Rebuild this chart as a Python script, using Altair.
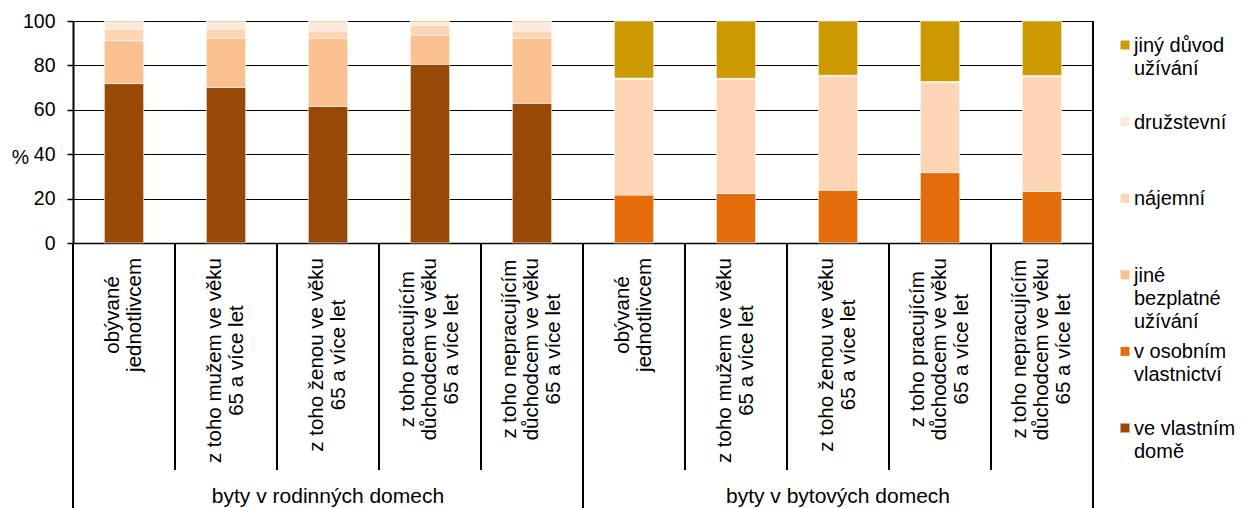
import altair as alt
import pandas as pd

# ---------------- data ----------------
groups = ["byty v rodinných domech", "byty v bytových domech"]
category_lines = [
    ["obývané", "jednotlivcem"],
    ["z toho mužem ve věku", "65 a více let"],
    ["z toho ženou ve věku", "65 a více let"],
    ["z toho pracujícím", "důchodcem ve věku", "65 a více let"],
    ["z toho nepracujícím", "důchodcem ve věku", "65 a více let"],
]

# series listed bottom -> top of the stack
series = [
    "ve vlastním domě",
    "v osobním vlastnictví",
    "jiné bezplatné užívání",
    "nájemní",
    "družstevní",
    "jiný důvod užívání",
]
series_colors = ["#984807", "#E46C0A", "#FAC090", "#FCD5B5", "#FDE9D9", "#CC9900"]
legend_texts = [
    "ve vlastním\ndomě",
    "v osobním\nvlastnictví",
    "jiné\nbezplatné\nužívání",
    "nájemní",
    "družstevní",
    "jiný důvod\nužívání",
]

# byty v rodinných domech
rodinne_vlastni = [71.8, 70.1, 61.5, 80.5, 62.9]
rodinne_osobni = [0, 0, 0, 0, 0]
rodinne_bezplatne = [19.3, 22.2, 30.8, 13.2, 29.4]
rodinne_najemni = [5.3, 4.1, 3.2, 4.2, 3.3]
rodinne_druzstevni = [3.3, 3.3, 4.2, 1.7, 4.1]
rodinne_jiny = [0.3, 0.3, 0.3, 0.4, 0.3]
# byty v bytových domech
bytove_vlastni = [0, 0, 0, 0, 0]
bytove_osobni = [21.6, 22.3, 23.8, 31.7, 23.2]
bytove_bezplatne = [0, 0, 0, 0, 0]
bytove_najemni = [52.2, 51.5, 51.3, 40.5, 51.6]
bytove_druzstevni = [0.5, 0.4, 0.5, 0.5, 0.6]
bytove_jiny = [25.7, 25.8, 24.4, 27.3, 24.6]

y_ticks = [0, 20, 40, 60, 80, 100]

# ---------------- build tables ----------------
values_by_group = [
    [rodinne_vlastni, rodinne_osobni, rodinne_bezplatne, rodinne_najemni, rodinne_druzstevni, rodinne_jiny],
    [bytove_vlastni, bytove_osobni, bytove_bezplatne, bytove_najemni, bytove_druzstevni, bytove_jiny],
]

n_cat = len(category_lines)
keys = [f"{g}-{c}" for g in range(len(groups)) for c in range(n_cat)]

rows = []
for g, vals in enumerate(values_by_group):
    for c in range(n_cat):
        for s, name in enumerate(series):
            v = vals[s][c]
            if v > 0:
                rows.append({"key": f"{g}-{c}", "series": name, "rank": s, "value": v})
df = pd.DataFrame(rows)

FONT = "Liberation Sans"
FS_AXIS = 19.5
FS_CAT = 20.5
FS_LEG = 20
FS_GRP = 21

W, H = 1020, 222
SEP_SHORT = 227
SEP_LONG = 265
LABEL_TOP = 15      # gap between the axis and the top of the rotated labels
LABEL_LH = 22

# Arial advance widths (per 1000 em): used to put each rotated label block
# right under the axis with its lines centred on each other
ADV = {" ": 278, "a": 556, "á": 556, "b": 556, "c": 500, "č": 500, "d": 556,
       "e": 556, "é": 556, "ě": 556, "f": 278, "h": 556, "i": 222, "í": 278, "j": 222,
       "k": 500, "l": 222, "m": 833, "n": 556, "o": 556, "p": 556, "r": 333, "s": 500,
       "t": 278, "u": 556, "ů": 556, "v": 500, "y": 500, "ý": 500, "z": 500, "ž": 500}


def block_len(lines):
    return max(sum(ADV.get(ch, 556) for ch in ln) for ln in lines) * FS_CAT / 1000.0


lab_rows = []
for g in range(len(groups)):
    for c in range(n_cat):
        lab_rows.append({
            "key": f"{g}-{c}",
            "text": "\n".join(category_lines[c]),
            "nlines": len(category_lines[c]),
            "cy": H + LABEL_TOP + block_len(category_lines[c]) / 2.0,
        })
lab_df = pd.DataFrame(lab_rows)

xscale = alt.Scale(type="band", domain=keys, paddingInner=0, paddingOuter=0)
cscale = alt.Scale(domain=series, range=series_colors)
pix = alt.Scale(domain=[0, 1000], range=[0, 1000])

bars = alt.Chart(df).mark_bar(
    width=alt.RelativeBandSize(0.385), stroke="white", strokeWidth=0.8, strokeOpacity=0.7
).encode(
    x=alt.X("key:N", scale=xscale, title=None,
            axis=alt.Axis(domain=True, domainColor="black", domainWidth=1.5, ticks=False,
                          grid=False, labels=False)),
    y=alt.Y("value:Q", stack="zero", title="%",
            scale=alt.Scale(domain=[0, 100], nice=False),
            axis=alt.Axis(values=y_ticks, grid=True, gridColor="black", gridWidth=1,
                          domainColor="black", domainWidth=2, tickColor="black", tickSize=6,
                          tickWidth=1.5, labelFont=FONT, labelFontSize=FS_AXIS, labelColor="black",
                          labelPadding=12, titleAngle=0, titleX=-53, titleY=136,
                          titleAlign="center", titleBaseline="middle", titleFont=FONT,
                          titleFontSize=FS_AXIS, titleFontWeight="normal", titleColor="black")),
    color=alt.Color("series:N", scale=cscale, legend=None),
    order=alt.Order("rank:Q", sort="ascending"),
)


# rotated category labels: one layer per line count so that each block is
# centred on its category (the shift is across the rotated lines)
def cat_layer(n):
    return alt.Chart(lab_df).transform_filter(alt.datum.nlines == n).mark_text(
        font=FONT, fontSize=FS_CAT, color="black", angle=270, align="center",
        baseline="middle", lineBreak="\n", lineHeight=LABEL_LH, dy=-(n - 1) * LABEL_LH / 2.0
    ).encode(
        x=alt.X("key:N", scale=xscale, title=None),
        y=alt.Y("cy:Q", scale=pix, axis=None),
        text="text:N",
    )


cat_layers = [cat_layer(n) for n in sorted(set(lab_df["nlines"]))]

# separators under the category axis
short_df = pd.DataFrame({"key": [k for i, k in enumerate(keys) if i % n_cat != 0]})
long_df = pd.DataFrame({"key": [k for i, k in enumerate(keys) if i % n_cat == 0]})
end_df = pd.DataFrame({"key": [keys[-1]]})

short_rules = alt.Chart(short_df).mark_rule(color="black", strokeWidth=2).encode(
    x=alt.X("key:N", scale=xscale, bandPosition=0, title=None),
    y=alt.value(H), y2=alt.value(H + SEP_SHORT))
long_rules = alt.Chart(long_df).mark_rule(color="black", strokeWidth=2).encode(
    x=alt.X("key:N", scale=xscale, bandPosition=0, title=None),
    y=alt.value(H), y2=alt.value(H + SEP_LONG))
end_rule = alt.Chart(end_df).mark_rule(color="black", strokeWidth=2).encode(
    x=alt.X("key:N", scale=xscale, bandPosition=1, title=None),
    y=alt.value(0), y2=alt.value(H + SEP_LONG))

grp_df = pd.DataFrame({"key": [f"{g}-2" for g in range(len(groups))], "group": groups})
group_text = alt.Chart(grp_df).mark_text(
    font=FONT, fontSize=FS_GRP, color="black", align="center", baseline="alphabetic"
).encode(x=alt.X("key:N", scale=xscale, title=None), y=alt.value(H + 260), text="group:N")

# legend (top -> bottom: reverse of the stack)
leg_df = pd.DataFrame({
    "series": series[::-1],
    "label": legend_texts[::-1],
    "pos": list(range(len(series))),
})
lscale = alt.Scale(domain=[0, len(series) - 1], range=[24, 407])
leg_sym = alt.Chart(leg_df).mark_square(size=81, opacity=1).encode(
    x=alt.value(W + 32),
    y=alt.Y("pos:Q", scale=lscale, axis=None),
    color=alt.Color("series:N", scale=cscale, legend=None),
)
leg_txt = alt.Chart(leg_df).mark_text(
    font=FONT, fontSize=FS_LEG, color="black", align="left", baseline="alphabetic",
    dy=7, lineBreak="\n", lineHeight=23
).encode(
    x=alt.value(W + 41),
    y=alt.Y("pos:Q", scale=lscale, axis=None),
    text="label:N",
)

chart = alt.layer(
    bars, *cat_layers, short_rules, long_rules, end_rule, group_text, leg_sym, leg_txt
).resolve_scale(y="independent").properties(
    width=W, height=H,
    autosize=alt.AutoSizeParams(type="none"),
    padding={"left": 65, "top": 13, "right": 144, "bottom": 265},
).configure_view(stroke=None)

chart.save("out.html", embed_options={"renderer": "svg", "actions": False})
